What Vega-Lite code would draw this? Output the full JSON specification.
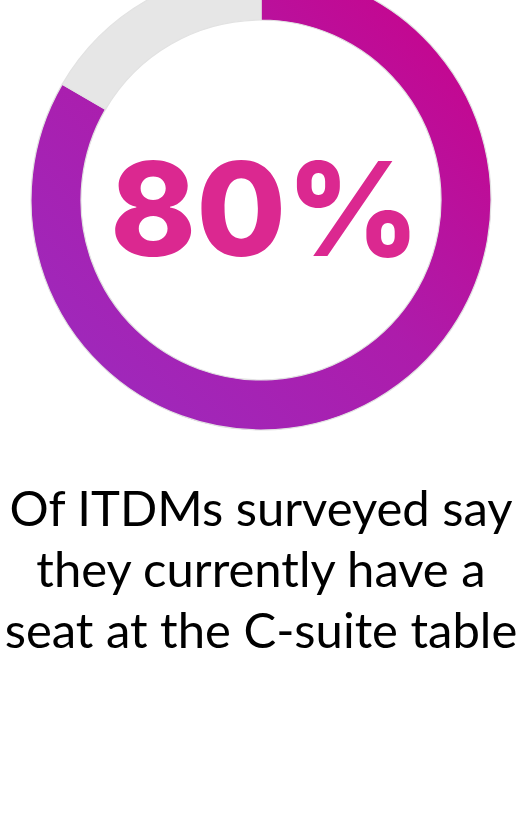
{
  "$schema": "https://vega.github.io/schema/vega-lite/v6.json",
  "width": 516,
  "height": 400,
  "autosize": {"type": "none"},
  "padding": {"left": 3, "top": 0, "right": 0, "bottom": 413},
  "background": "white",
  "config": {"view": {"stroke": null}},
  "title": {
    "text": ["Of ITDMs surveyed say", "they currently have a", "seat at the C-suite table"],
    "orient": "bottom",
    "anchor": "middle",
    "frame": "group",
    "baseline": "alphabetic",
    "offset": 94,
    "font": "Lato",
    "fontSize": 49,
    "fontWeight": "normal",
    "lineHeight": 61,
    "color": "#000000"
  },
  "layer": [
    {
      "data": {
        "values": [
          {"segment": "Have a seat", "share": 83.4, "rank": 1},
          {"segment": "Remainder", "share": 16.6, "rank": 2}
        ]
      },
      "mark": {
        "type": "arc",
        "outerRadius": 230,
        "innerRadius": 180,
        "stroke": "#e2e2e2",
        "strokeWidth": 1.2
      },
      "encoding": {
        "theta": {"field": "share", "type": "quantitative", "stack": true},
        "detail": {"field": "segment"},
        "order": {"field": "rank", "type": "quantitative"},
        "fill": {
          "condition": {
            "test": "datum.segment === 'Have a seat'",
            "value": {
              "gradient": "linear",
              "x1": 0, "y1": 1, "x2": 1, "y2": 0,
              "stops": [
                {"offset": 0, "color": "#9a2cc0"},
                {"offset": 0.5, "color": "#ad1cab"},
                {"offset": 1, "color": "#cc0087"}
              ]
            }
          },
          "value": "#e6e6e6"
        }
      }
    },
    {
      "data": {"values": [{"label": "80%"}]},
      "mark": {
        "type": "text",
        "font": "Inter",
        "fontWeight": 800,
        "fontSize": 130,
        "color": "#db2890",
        "align": "center",
        "baseline": "alphabetic",
        "dx": 4,
        "dy": 56
      },
      "encoding": {"text": {"field": "label"}}
    }
  ]
}
